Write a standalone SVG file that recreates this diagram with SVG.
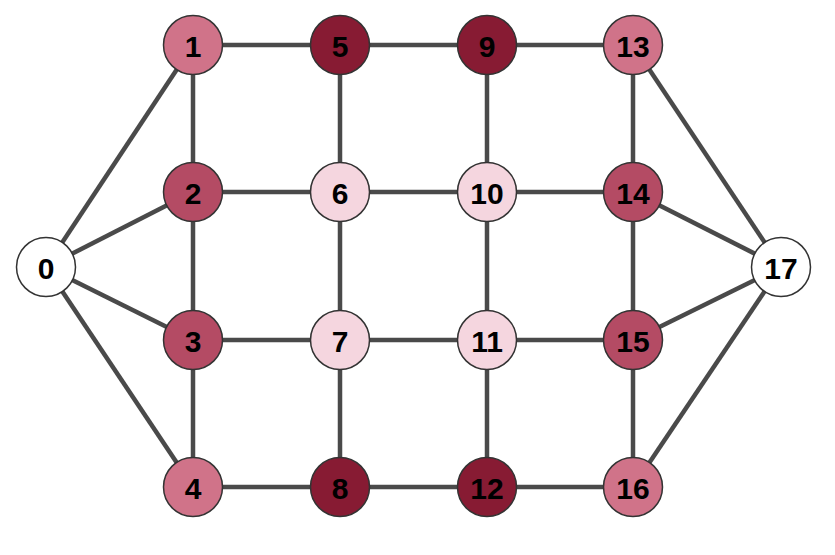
<svg xmlns="http://www.w3.org/2000/svg" width="835" height="555" viewBox="0 0 835 555">
<style>
.e{stroke:#4a4a4a;stroke-width:4.5;fill:none}
.n circle{stroke:#333;stroke-width:1.5}
.n text{font-family:"Liberation Sans",Arial,sans-serif;font-weight:bold;font-size:30px;fill:#000;text-anchor:middle;dominant-baseline:central}
.c0{fill:#ffffff}.c1{fill:#f5d6df}.c2{fill:#d07389}.c3{fill:#b44b64}.c4{fill:#871b33}
</style>
<rect width="835" height="555" fill="#fff"/>
<g id="edges">
<line class="e" x1="46" y1="267" x2="193" y2="45"/>
<line class="e" x1="46" y1="267" x2="193" y2="192"/>
<line class="e" x1="46" y1="267" x2="193" y2="340"/>
<line class="e" x1="46" y1="267" x2="193" y2="487"/>
<line class="e" x1="193" y1="45" x2="633" y2="45"/>
<line class="e" x1="193" y1="192" x2="633" y2="192"/>
<line class="e" x1="193" y1="340" x2="633" y2="340"/>
<line class="e" x1="193" y1="487" x2="633" y2="487"/>
<line class="e" x1="193" y1="45" x2="193" y2="487"/>
<line class="e" x1="340" y1="45" x2="340" y2="487"/>
<line class="e" x1="487" y1="45" x2="487" y2="487"/>
<line class="e" x1="633" y1="45" x2="633" y2="487"/>
<line class="e" x1="781" y1="267" x2="633" y2="45"/>
<line class="e" x1="781" y1="267" x2="633" y2="192"/>
<line class="e" x1="781" y1="267" x2="633" y2="340"/>
<line class="e" x1="781" y1="267" x2="633" y2="487"/>
</g>
<g id="node0" class="n"><circle class="c0" cx="46" cy="267" r="29.5"/><text x="46" y="268">0</text></g>
<g id="node1" class="n"><circle class="c2" cx="193" cy="45" r="29.5"/><text x="193" y="46">1</text></g>
<g id="node2" class="n"><circle class="c3" cx="193" cy="192" r="29.5"/><text x="193" y="193">2</text></g>
<g id="node3" class="n"><circle class="c3" cx="193" cy="340" r="29.5"/><text x="193" y="341">3</text></g>
<g id="node4" class="n"><circle class="c2" cx="193" cy="487" r="29.5"/><text x="193" y="488">4</text></g>
<g id="node5" class="n"><circle class="c4" cx="340" cy="45" r="29.5"/><text x="340" y="46">5</text></g>
<g id="node6" class="n"><circle class="c1" cx="340" cy="192" r="29.5"/><text x="340" y="193">6</text></g>
<g id="node7" class="n"><circle class="c1" cx="340" cy="340" r="29.5"/><text x="340" y="341">7</text></g>
<g id="node8" class="n"><circle class="c4" cx="340" cy="487" r="29.5"/><text x="340" y="488">8</text></g>
<g id="node9" class="n"><circle class="c4" cx="487" cy="45" r="29.5"/><text x="487" y="46">9</text></g>
<g id="node10" class="n"><circle class="c1" cx="487" cy="192" r="29.5"/><text x="487" y="193">10</text></g>
<g id="node11" class="n"><circle class="c1" cx="487" cy="340" r="29.5"/><text x="487" y="341">11</text></g>
<g id="node12" class="n"><circle class="c4" cx="487" cy="487" r="29.5"/><text x="487" y="488">12</text></g>
<g id="node13" class="n"><circle class="c2" cx="633" cy="45" r="29.5"/><text x="633" y="46">13</text></g>
<g id="node14" class="n"><circle class="c3" cx="633" cy="192" r="29.5"/><text x="633" y="193">14</text></g>
<g id="node15" class="n"><circle class="c3" cx="633" cy="340" r="29.5"/><text x="633" y="341">15</text></g>
<g id="node16" class="n"><circle class="c2" cx="633" cy="487" r="29.5"/><text x="633" y="488">16</text></g>
<g id="node17" class="n"><circle class="c0" cx="781" cy="267" r="29.5"/><text x="781" y="268">17</text></g>
</svg>
